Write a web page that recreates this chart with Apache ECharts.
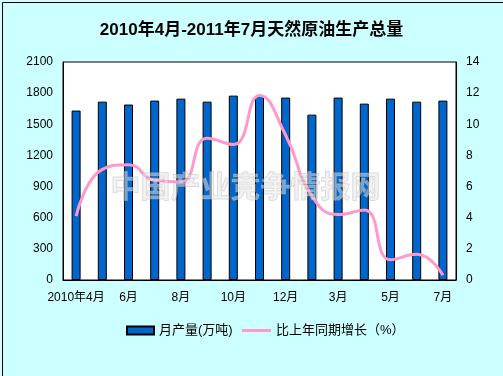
<!DOCTYPE html>
<html><head><meta charset="utf-8">
<script src="https://cdn.jsdelivr.net/npm/echarts@6/dist/echarts.min.js"></script>
<style>html,body{margin:0;padding:0;background:#CCFFFF}#c{width:503px;height:376px}</style>
</head><body><div id="c"></div>
<script>
const categories = ["2010年4月","5月","6月","7月","8月","9月","10月","11月","12月","1-2月","3月","4月","5月","6月","7月"];
const output = [1632,1718,1690,1728,1747,1718,1776,1772,1757,1593,1757,1699,1747,1718,1728];
const growth = [4.1,7.1,7.4,6.4,6.3,9.1,8.7,11.85,9.3,5.4,4.2,4.5,1.3,1.65,0.3];
const leftTicks = {min:0,max:2100,interval:300};
const rightTicks = {min:0,max:14,interval:2};
const font = '"Liberation Sans","Noto Sans CJK SC",sans-serif';
const chart = echarts.init(document.getElementById('c'));
chart.setOption({
  backgroundColor:'#CCFFFF',
  animation:false,
  textStyle:{fontFamily:font},
  title:{text:'2010年4月-2011年7月天然原油生产总量',left:'center',top:17,
    textStyle:{fontSize:17,fontWeight:'bold',color:'#000',fontFamily:font}},
  grid:{left:63,right:47,top:62,bottom:96,show:true,backgroundColor:'#fff',borderColor:'#000',borderWidth:1},
  legend:[
    {left:126,top:324,padding:0,itemWidth:27,itemHeight:8,itemGap:5,
     textStyle:{fontSize:13,color:'#000',fontFamily:font},
     data:[{name:'月产量(万吨)',icon:'rect'}]},
    {left:242,top:324,padding:0,itemWidth:29,itemHeight:3,itemGap:3,
     textStyle:{fontSize:13,color:'#000',fontFamily:font},
     data:[{name:'比上年同期增长（%）',icon:'rect'}]}
  ],
  xAxis:{type:'category',data:categories,
    axisLine:{lineStyle:{color:'#000',width:1}},
    axisTick:{inside:true,length:4,interval:0,lineStyle:{color:'#000'}},
    axisLabel:{interval:1,color:'#000',fontSize:12,margin:12,fontFamily:font}},
  yAxis:[
    {type:'value',min:leftTicks.min,max:leftTicks.max,interval:leftTicks.interval,
     splitLine:{show:false},axisLine:{show:true,lineStyle:{color:'#000'}},
     axisTick:{show:false},axisLabel:{color:'#000',fontSize:12,margin:10,fontFamily:font,formatter:v=>String(v)}},
    {type:'value',min:rightTicks.min,max:rightTicks.max,interval:rightTicks.interval,
     splitLine:{show:false},axisLine:{show:true,lineStyle:{color:'#000'}},
     axisTick:{show:false},axisLabel:{color:'#000',fontSize:12,margin:10,fontFamily:font,formatter:v=>String(v)}}
  ],
  series:[
    {name:'月产量(万吨)',type:'bar',data:output,barWidth:9,
     itemStyle:{color:'#0066CC',borderColor:'#000',borderWidth:1}},
    {name:'比上年同期增长（%）',type:'line',yAxisIndex:1,data:growth,smooth:0.5,
     symbol:'none',lineStyle:{color:'#FF99CC',width:3},itemStyle:{color:'#FF99CC'}}
  ],
  graphic:[
    {type:'rect',left:0,top:0,z:-1,shape:{width:502,height:375},style:{fill:'none',stroke:'#000',lineWidth:1}},
    {type:'text',left:110,top:170,z:100,style:{text:'中国产业竞争情报网',font:'bold 30px "Noto Sans CJK SC"',
      fill:'rgba(230,230,230,0.5)',stroke:'rgba(160,160,160,0.4)',lineWidth:1}}
  ]
});
</script></body></html>
